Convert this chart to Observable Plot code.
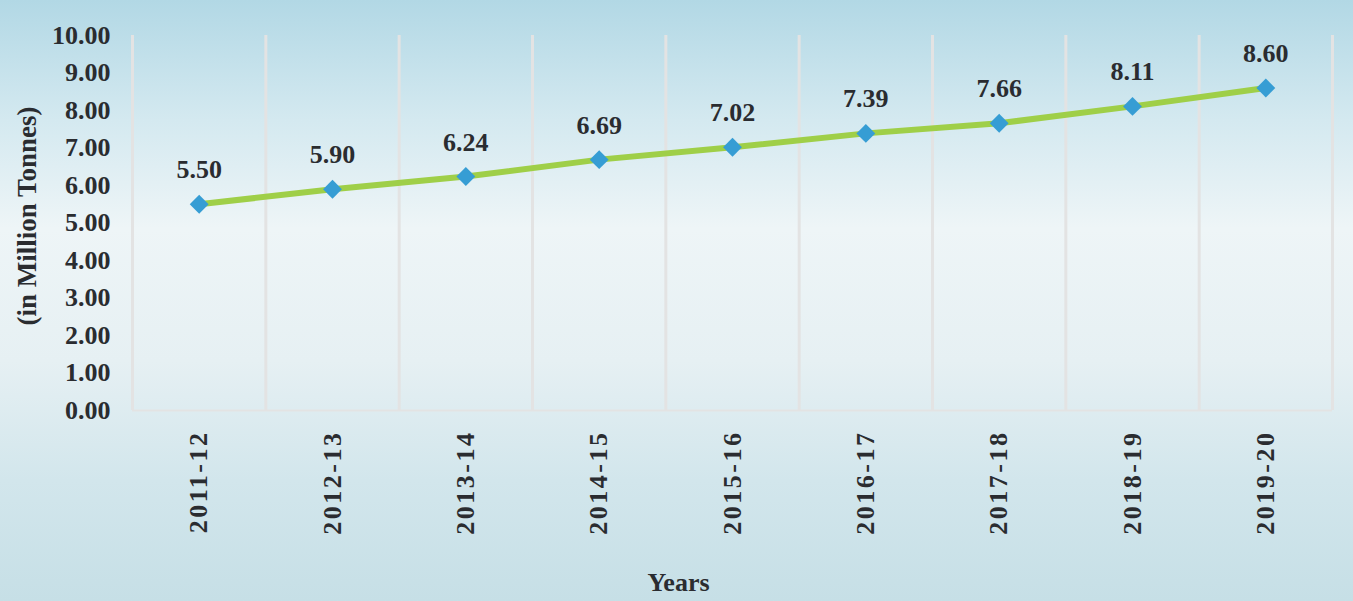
<!DOCTYPE html>
<html>
<head>
<meta charset="utf-8">
<script src="https://cdn.jsdelivr.net/npm/d3@7"></script>
<script src="https://cdn.jsdelivr.net/npm/@observablehq/plot@0.6"></script>
<style>
  html, body { margin: 0; padding: 0; }
  #chart {
    width: 1353px; height: 601px; position: relative; overflow: hidden;
    background: linear-gradient(to bottom, #b2d8e5 0%, #d4e9f0 20%, #eef5f7 38%, #e6f0f3 60%, #d2e6ec 80%, #c6dfe6 100%);
  }
  #chart svg { display: block; }
  g[aria-label="x-axis tick label"] text { letter-spacing: 2.5px; }
</style>
</head>
<body>
<div id="chart"></div>
<script>
const years = ["2011-12","2012-13","2013-14","2014-15","2015-16","2016-17","2017-18","2018-19","2019-20"];
const values = [5.50, 5.90, 6.24, 6.69, 7.02, 7.39, 7.66, 8.11, 8.60];
const yTicks = [0,1,2,3,4,5,6,7,8,9,10];
const yTitle = "(in Million Tonnes)";
const xTitle = "Years";

const data = years.map((y, i) => ({year: y, pos: i + 0.5, value: values[i]}));
const boundaries = d3.range(years.length + 1);
const fmt = d3.format(".2f");
const font = "'Liberation Serif', 'Times New Roman', serif";
const ink = "#2a2c30";

const plot = Plot.plot({
  width: 1353,
  height: 601,
  marginLeft: 132,
  marginRight: 21,
  marginTop: 35,
  marginBottom: 191,
  style: {background: "transparent", fontFamily: font, fontWeight: "bold", color: ink, fontSize: "26px"},
  x: {type: "linear", domain: [0, years.length]},
  y: {domain: [0, 10]},
  marks: [
    Plot.ruleX(boundaries, {y1: 0, y2: 10, stroke: "#e3e3e3", strokeWidth: 3}),
    Plot.ruleY([0], {stroke: "#e3e3e3", strokeWidth: 2}),
    Plot.axisY({ticks: yTicks, tickFormat: fmt, tickSize: 0, tickPadding: 22, label: null, fontSize: 26, fill: ink}),
    Plot.axisX({ticks: data.map(d => d.pos), tickFormat: (v) => years[Math.floor(v)], tickSize: 0, tickPadding: 20, tickRotate: -90, label: null, fontSize: 26, fill: ink}),
    Plot.line(data, {x: "pos", y: "value", stroke: "#9fcf48", strokeWidth: 6}),
    Plot.dot(data, {x: "pos", y: "value", symbol: "diamond2", r: 8.5, fill: "#369dd4", stroke: "none"}),
    Plot.text(data, {x: "pos", y: "value", text: d => fmt(d.value), dy: -26, lineAnchor: "bottom", fontSize: 26, fill: ink}),
    Plot.text([yTitle], {frameAnchor: "left", text: d => d, rotate: -90, textAnchor: "middle", dx: -105, dy: -7, fontSize: 27, fill: ink}),
    Plot.text([xTitle], {frameAnchor: "bottom", text: d => d, dx: -54, dy: 180, fontSize: 26, fill: ink})
  ]
});
document.getElementById("chart").appendChild(plot);
</script>
</body>
</html>
